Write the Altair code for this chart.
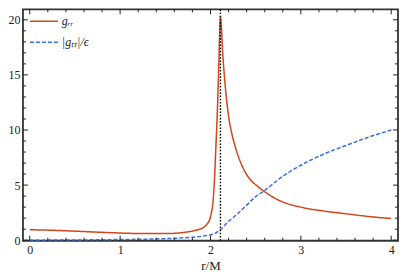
import altair as alt
import pandas as pd

# ---- data ----
r_rr = [0.0, 0.25, 0.5, 0.75, 1.0, 1.25, 1.5, 1.65, 1.78, 1.86, 1.93, 1.97, 1.99, 2.01,
        2.026, 2.044, 2.06, 2.075, 2.09, 2.10, 2.11, 2.12, 2.135, 2.155, 2.18, 2.205,
        2.235, 2.27, 2.3, 2.37, 2.445, 2.52, 2.59, 2.75, 3.0, 3.25, 3.5, 3.75, 4.0]
g_rr = [0.95, 0.9, 0.82, 0.73, 0.65, 0.6, 0.6, 0.66, 0.8, 0.95, 1.2, 1.55, 1.85, 2.5,
        3.3, 5.5, 8.5, 11.5, 15.3, 18.3, 20.3, 19.4, 17.0, 14.8, 12.6, 11.0,
        9.7, 8.6, 7.8, 6.4, 5.45, 4.9, 4.45, 3.65, 3.0, 2.65, 2.4, 2.15, 1.97]

r_tt = [0.0, 0.5, 1.0, 1.5, 1.8, 1.9, 2.0, 2.05, 2.11, 2.2, 2.3, 2.39, 2.5, 2.59,
        2.75, 3.0, 3.25, 3.5, 3.75, 4.0]
g_tt = [0.0, 0.02, 0.06, 0.14, 0.27, 0.35, 0.5, 0.62, 0.95, 1.7, 2.4, 3.1, 3.95, 4.45,
        5.5, 6.8, 7.8, 8.6, 9.35, 10.0]

horizon = [2.11]

series_names = ["g\u1d63\u1d63", "|g\u209c\u209c|/\u03f5"]
series_colors = ["#D1461A", "#3A6FDF"]

x_major = [0, 1, 2, 3, 4]
x_minor = [0.2, 0.4, 0.6, 0.8, 1.2, 1.4, 1.6, 1.8, 2.2, 2.4, 2.6, 2.8, 3.2, 3.4, 3.6, 3.8]
y_major = [0, 5, 10, 15, 20]
y_minor = [1, 2, 3, 4, 6, 7, 8, 9, 11, 12, 13, 14, 16, 17, 18, 19]

x_domain = [-0.075, 4.075]
y_domain = [-0.05, 20.95]

W, H = 376, 232
FONT = "Liberation Serif"
FRAME = "#333333"
MAJOR, MINOR = 5, 3

df = pd.concat([
    pd.DataFrame({"r": r_rr, "g": g_rr, "series": series_names[0]}),
    pd.DataFrame({"r": r_tt, "g": g_tt, "series": series_names[1]}),
])

sx = alt.Scale(domain=x_domain, nice=False, zero=False)
sy = alt.Scale(domain=y_domain, nice=False, zero=False)

legend = alt.Legend(
    title=None, orient="none", legendX=6, legendY=4, padding=0,
    symbolType="M-1,0H3", symbolSize=196, symbolStrokeWidth=1.5,
    labelOffset=17, rowPadding=7, labelFont=FONT, labelFontSize=12,
    labelColor="#222", labelFontStyle="italic",
)

lines = alt.Chart(df).mark_line(strokeWidth=1.5, clip=True, interpolate="monotone").encode(
    x=alt.X("r:Q", scale=sx, axis=alt.Axis(
        title="r/M", values=x_major, ticks=False, domain=False, grid=False,
        labelPadding=4, labelFont=FONT, labelFontSize=12, labelColor="#222",
        titleFont=FONT, titleFontSize=13, titleFontWeight="normal", titleColor="#222",
        titlePadding=4, format="d")),
    y=alt.Y("g:Q", scale=sy, axis=alt.Axis(
        title=None, values=y_major, ticks=False, domain=False, grid=False,
        labelPadding=3, labelFont=FONT, labelFontSize=12, labelColor="#222", format="d")),
    color=alt.Color("series:N", scale=alt.Scale(domain=series_names, range=series_colors),
                    legend=legend),
    strokeDash=alt.StrokeDash("series:N", scale=alt.Scale(domain=series_names,
                                                          range=[[1, 0], [4, 2]]),
                              legend=legend),
)

vline = alt.Chart(pd.DataFrame({"r": horizon})).mark_rule(
    color="black", strokeWidth=1.4, strokeDash=[1.6, 1.6]
).encode(x=alt.X("r:Q", scale=sx))

# inward frame ticks: positions go through the data scales, lengths are styling
xt = pd.DataFrame({"r": x_major + x_minor,
                   "len": [MAJOR] * len(x_major) + [MINOR] * len(x_minor)})
yt = pd.DataFrame({"g": y_major + y_minor,
                   "len": [MAJOR] * len(y_major) + [MINOR] * len(y_minor)})

tick_style = dict(color="#222222", strokeWidth=1)


def xticks(y0, y1):
    return alt.Chart(xt).transform_calculate(p0=y0, p1=y1).mark_rule(**tick_style).encode(
        x=alt.X("r:Q", scale=sx), y=alt.Y("p0:Q", scale=None), y2="p1:Q")


def yticks(x0, x1):
    return alt.Chart(yt).transform_calculate(p0=x0, p1=x1).mark_rule(**tick_style).encode(
        y=alt.Y("g:Q", scale=sy), x=alt.X("p0:Q", scale=None), x2="p1:Q")


chart = alt.layer(
    lines, vline,
    xticks(f"{H}", f"{H} - datum.len"),
    xticks("0", "datum.len"),
    yticks("0", "datum.len"),
    yticks(f"{W}", f"{W} - datum.len"),
).properties(
    width=W, height=H, padding=0, background="white"
).configure_view(stroke=FRAME, strokeWidth=1.8)

chart.save("out.html", embed_options={"renderer": "svg", "actions": False})
